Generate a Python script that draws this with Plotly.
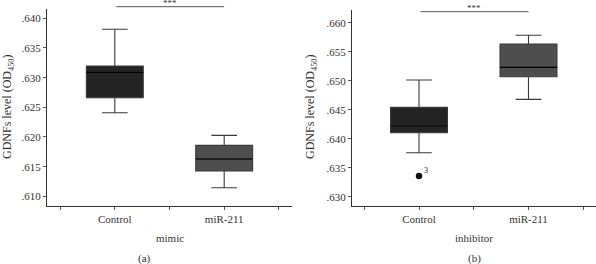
import plotly.graph_objects as go

# ---- data ----
categories = ["Control", "miR-211"]

# panel (a) mimic
a_upper = [0.63815, 0.62028]
a_q3 = [0.63196, 0.61859]
a_median = [0.63090, 0.61629]
a_q1 = [0.62662, 0.61427]
a_lower = [0.62409, 0.61145]

# panel (b) inhibitor
b_upper = [0.65012, 0.65783]
b_q3 = [0.64541, 0.65633]
b_median = [0.64219, 0.65231]
b_q1 = [0.64103, 0.65069]
b_lower = [0.63759, 0.64679]
b_outlier_value = [0.63357]
b_outlier_label = ["3"]

a_ticks = [0.610, 0.615, 0.620, 0.625, 0.630, 0.635, 0.640]
a_ticktext = [".610", ".615", ".620", ".625", ".630", ".635", ".640"]
b_ticks = [0.630, 0.635, 0.640, 0.645, 0.650, 0.655, 0.660]
b_ticktext = [".630", ".635", ".640", ".645", ".650", ".655", ".660"]

a_sig_y = 0.64196
b_sig_y = 0.6619

box_colors = ["#242424", "#4e4e4e"]
FONT = "Liberation Serif"

W, H = 596, 264
def fx(px):
    return px / W
def fy(py):
    return 1 - py / H

a_yrange = [0.60837, 0.64157]
b_yrange = [0.62840, 0.66219]
a_ydom = [fy(206), fy(9)]
b_ydom = [fy(206), fy(10)]

def to_paper(v, rng, dom):
    # map a data value through the axis scale to paper coordinates
    return dom[0] + (v - rng[0]) / (rng[1] - rng[0]) * (dom[1] - dom[0])

fig = go.Figure()

def add_boxes(xaxis, yaxis, upper, q3, med, q1, lower):
    for i in range(2):
        fig.add_trace(go.Box(
            x=[i], q1=[q1[i]], median=[med[i]], q3=[q3[i]],
            lowerfence=[lower[i]], upperfence=[upper[i]],
            width=0.52, whiskerwidth=0.45,
            fillcolor=box_colors[i],
            line=dict(color="#3a3a3a", width=1.1),
            xaxis=xaxis, yaxis=yaxis, showlegend=False, hoverinfo="skip",
        ))

add_boxes("x", "y", a_upper, a_q3, a_median, a_q1, a_lower)
add_boxes("x2", "y2", b_upper, b_q3, b_median, b_q1, b_lower)

# medians in black over boxes
for xa, ya, med in (("x", "y", a_median), ("x2", "y2", b_median)):
    for i in range(2):
        fig.add_trace(go.Scatter(
            x=[i - 0.26, i + 0.26], y=[med[i], med[i]], mode="lines",
            line=dict(color="#000000", width=1.2),
            xaxis=xa, yaxis=ya, showlegend=False, hoverinfo="skip"))

# outlier in panel b
fig.add_trace(go.Scatter(
    x=[0], y=b_outlier_value, mode="markers",
    marker=dict(color="#111111", size=6.5),
    xaxis="x2", yaxis="y2", showlegend=False, hoverinfo="skip"))

axis_common = dict(showgrid=False, zeroline=False, showline=True,
                   linecolor="#333333", linewidth=1, ticks="outside",
                   ticklen=3, tickcolor="#555555",
                   tickfont=dict(family=FONT, size=11, color="#333333"))

xt = [-0.5, 0, 0.5, 1, 1.5]
xtt = ["", categories[0], "", categories[1], ""]

fig.update_layout(
    width=W, height=H,
    margin=dict(l=0, r=0, t=0, b=0),
    paper_bgcolor="white", plot_bgcolor="white",
    xaxis=dict(domain=[fx(47), fx(292)], range=[-0.62, 1.62],
               tickvals=xt, ticktext=xtt, anchor="y", **axis_common),
    yaxis=dict(domain=a_ydom, range=a_yrange,
               tickvals=a_ticks, ticktext=a_ticktext, anchor="x", **axis_common),
    xaxis2=dict(domain=[fx(352), fx(595.5)], range=[-0.612, 1.612],
                tickvals=xt, ticktext=xtt, anchor="y2", **axis_common),
    yaxis2=dict(domain=b_ydom, range=b_yrange,
                tickvals=b_ticks, ticktext=b_ticktext, anchor="x2", **axis_common),
    font=dict(family=FONT, color="#333333"),
)

ann = []
for xr, sig, rng, dom in (("x", a_sig_y, a_yrange, a_ydom),
                          ("x2", b_sig_y, b_yrange, b_ydom)):
    py = to_paper(sig, rng, dom)
    # significance bracket (annotation arrow, not clipped to the plot area)
    ann.append(dict(text="", x=1, y=py, xref=xr, yref="paper",
                    ax=0, ay=0, axref=xr, ayref="pixel", showarrow=True,
                    arrowhead=0, arrowwidth=1, arrowcolor="#555555",
                    standoff=0, startstandoff=0))
    ann.append(dict(text="***", x=0.5, y=py, xref=xr, yref="paper", showarrow=False,
                    yanchor="bottom", xanchor="center", yshift=-3,
                    font=dict(family=FONT, size=9, color="#333")))

def label(text, px, py, size=11, angle=0):
    return dict(text=text, x=fx(px), y=fy(py), xref="paper", yref="paper",
                xanchor="center", yanchor="middle", showarrow=False,
                textangle=angle, font=dict(family=FONT, size=size, color="#333"))

ann += [
    dict(text=b_outlier_label[0], x=0, y=b_outlier_value[0], xref="x2", yref="y2",
         showarrow=False, xshift=7, yshift=6, font=dict(family=FONT, size=8, color="#222")),
    label("mimic", 170, 238),
    label("inhibitor", 474, 238),
    label("(a)", 144, 258),
    label("(b)", 474, 258),
    label("GDNFs level (OD<sub>450</sub>)", 8, 107, size=12, angle=-90),
    label("GDNFs level (OD<sub>450</sub>)", 311, 107, size=12, angle=-90),
]
fig.update_layout(annotations=ann)

# remove the browser's default 8px body margin so the figure fills the window
fig.write_html("out.html", config={"displayModeBar": False},
               post_script="document.body.style.margin='0';document.body.style.overflow='hidden';")
